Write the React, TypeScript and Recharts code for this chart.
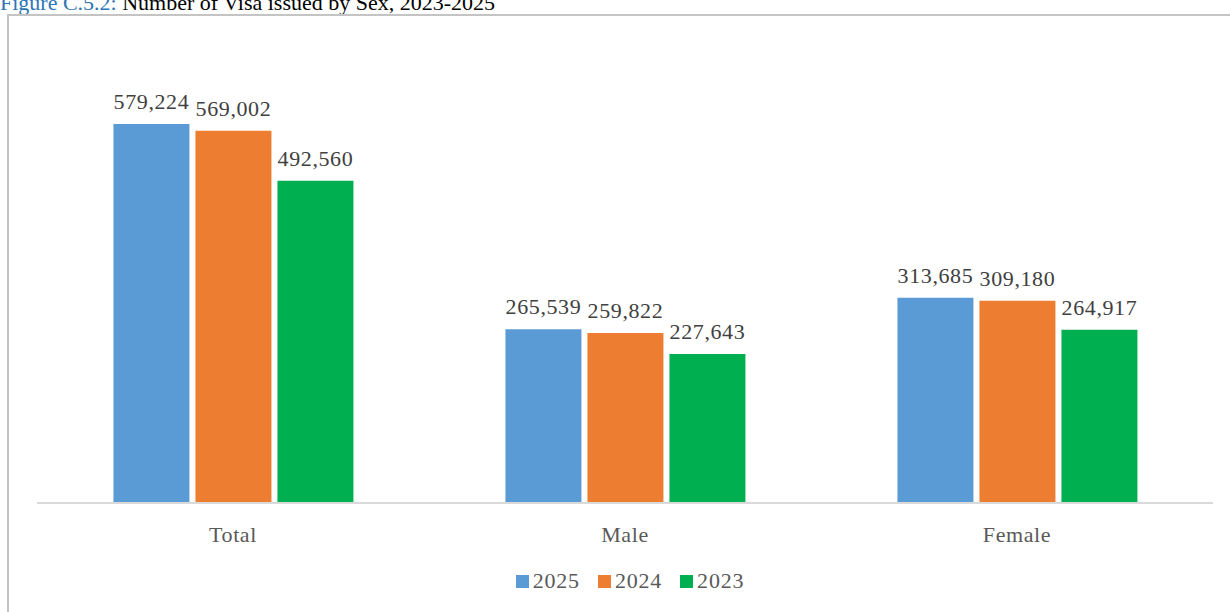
import React from "react";
import { BarChart, Bar, XAxis, YAxis, LabelList, Legend } from "recharts";

const categories = ["Total", "Male", "Female"];
const series2025 = [579224, 265539, 313685];
const series2024 = [569002, 259822, 309180];
const series2023 = [492560, 227643, 264917];
const seriesNames = ["2025", "2024", "2023"];
const seriesColors = ["#5B9BD5", "#ED7D31", "#00B050"];

const data = categories.map((c, i) => ({
  name: c,
  "2025": series2025[i],
  "2024": series2024[i],
  "2023": series2023[i],
}));

const FONT = "'Liberation Serif', 'DejaVu Serif', serif";

const fmt = (v: any) => Number(v).toLocaleString("en-US");

const renderLegend = () => (
  <div style={{ display: "flex", justifyContent: "center", gap: 18, fontFamily: FONT, fontSize: 22, letterSpacing: 0.8, color: "#595959", paddingLeft: 10 }}>
    {seriesNames.map((n, i) => (
      <div key={n} style={{ display: "flex", alignItems: "center" }}>
        <span style={{ display: "inline-block", width: 13, height: 13, background: seriesColors[i], marginRight: 4 }} />
        <span>{n}</span>
      </div>
    ))}
  </div>
);

export default function App() {
  return (
    <div style={{ position: "fixed", left: 0, top: 0, width: 1230, height: 612, overflow: "hidden", background: "#fff" }}>
      <div style={{ position: "absolute", left: 0, top: -9, fontFamily: FONT, fontSize: 22, whiteSpace: "nowrap", lineHeight: "24px" }}>
        <span style={{ color: "#2E75B6" }}>Figure C.5.2:</span>
        <span style={{ color: "#000" }}> Number of Visa issued by Sex, 2023-2025</span>
      </div>
      <div style={{ position: "absolute", left: 7, top: 14, width: 1260, height: 640, border: "2px solid #c4c4c4", boxSizing: "border-box" }} />
      <div style={{ position: "absolute", left: 0, top: 0 }}>
        <BarChart
          width={1230}
          height={612}
          data={data}
          margin={{ top: 45, right: 17, left: 37, bottom: 44 }}
          barCategoryGap="19.5%"
          barGap={6}
        >
          <XAxis
            dataKey="name"
            axisLine={{ stroke: "#d9d9d9", strokeWidth: 2 }}
            tickLine={false}
            height={35}
            tick={{ fill: "#595959", fontSize: 22, fontFamily: FONT, letterSpacing: 0.6 }}
            tickMargin={17}
          />
          <YAxis hide domain={[0, 700000]} />
          <Legend verticalAlign="bottom" height={30} content={renderLegend} wrapperStyle={{ bottom: 14 }} />
          {seriesNames.map((n, i) => (
            <Bar key={n} dataKey={n} fill={seriesColors[i]} isAnimationActive={false}>
              <LabelList
                dataKey={n}
                position="top"
                offset={15}
                formatter={fmt}
                style={{ fill: "#404040", fontSize: 22, fontFamily: FONT, letterSpacing: 0.6 }}
              />
            </Bar>
          ))}
        </BarChart>
      </div>
    </div>
  );
}
